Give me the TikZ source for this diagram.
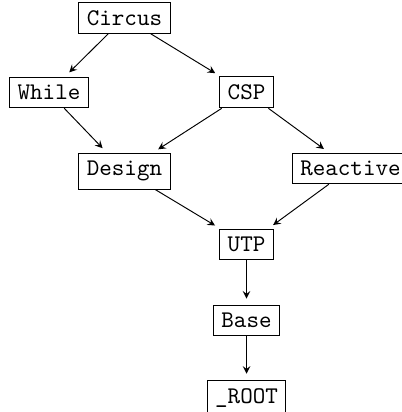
\documentclass[tikz,border=0pt]{standalone}
\begin{document}
\begin{tikzpicture}[
  thy/.style={draw, anchor=base, font=\ttfamily},
  dep/.style={-stealth, shorten >=2.5pt}
]
\def \xleft  {0.720};
\def \xmid   {1.830};
\def \xright {3.624};
\def \xfar   {5.152};

\def \ya {-0.368};
\def \yb {-1.464};
\def \yc {-2.581};
\def \yd {-3.699};
\def \ye {-4.816};
\def \yf {-5.924};

\useasboundingbox (0, 0) rectangle (5.909, -6.056);

\node [thy] (circus)   at (\xmid, \ya)   {Circus};
\node [thy] (while)    at (\xleft, \yb)  {While};
\node [thy] (csp)      at (\xright, \yb) {CSP};
\node [thy] (design)   at (\xmid, \yc)   {Design};
\node [thy] (reactive) at (\xfar, \yc)   {Reactive};
\node [thy] (utp)      at (\xright, \yd) {UTP};
\node [thy] (base)     at (\xright, \ye) {Base};
\node [thy] (root)     at (\xright, \yf) {\_ROOT};

% dependencies
\draw [dep] (circus) -- (while);
\draw [dep] (circus) -- (csp);
\draw [dep] (while) -- (design);
\draw [dep] (csp) -- (design);
\draw [dep] (csp) -- (reactive);
\draw [dep] (design) -- (utp);
\draw [dep] (reactive) -- (utp);
\draw [dep] (utp) -- (base);
\draw [dep] (base) -- (root);

\end{tikzpicture}
\end{document}
